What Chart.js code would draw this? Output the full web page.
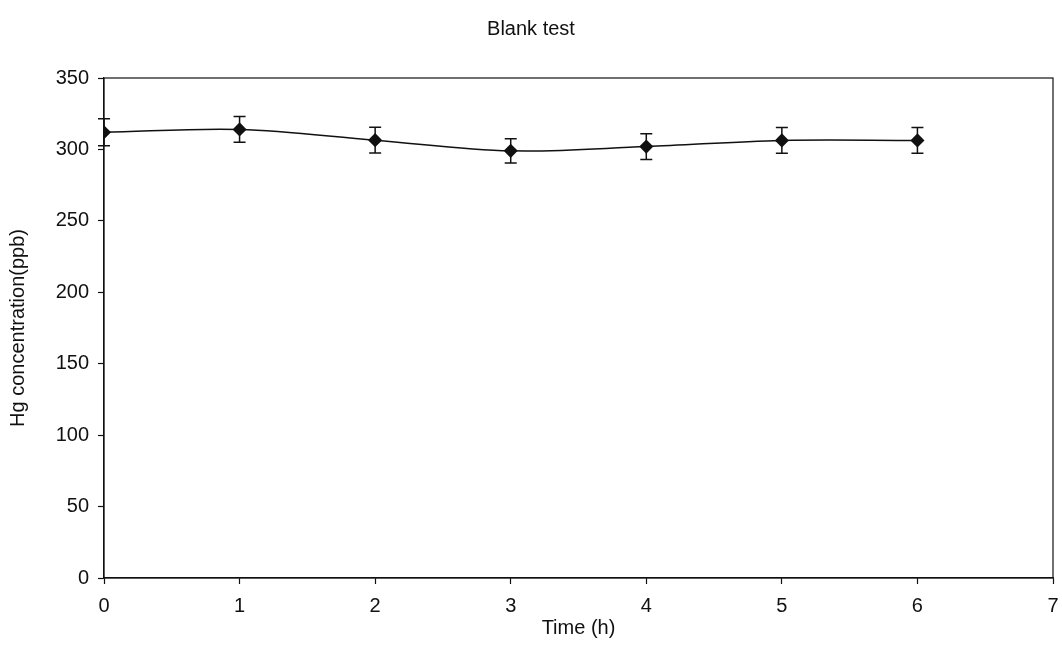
<!DOCTYPE html>
<html><head><meta charset="utf-8">
<script src="https://cdn.jsdelivr.net/npm/chart.js@4.4.1/dist/chart.umd.min.js"></script>
<style>html,body{margin:0;padding:0;background:#fff}#wrap{width:1062px;height:666px}</style>
</head><body><div id="wrap"><canvas id="c" width="1062" height="666"></canvas></div>
<script>
const times = [0, 1, 2, 3, 4, 5, 6];
const hgConc = [312, 314, 306.5, 299, 302, 306.3, 306.3];
const hgErr = [9.5, 9, 9, 8.5, 9, 9, 9];
const xTicks = [0, 1, 2, 3, 4, 5, 6, 7];
const yTicks = [0, 50, 100, 150, 200, 250, 300, 350];

const FONT = 'Liberation Sans, Arial, sans-serif';

const errorBars = {
  id: 'errorBars',
  afterDatasetsDraw(chart) {
    const ctx = chart.ctx, xs = chart.scales.x, ys = chart.scales.y;
    ctx.save();
    ctx.strokeStyle = '#111'; ctx.lineWidth = 1.5;
    times.forEach((t, i) => {
      const px = xs.getPixelForValue(t);
      const top = ys.getPixelForValue(hgConc[i] + hgErr[i]);
      const bot = ys.getPixelForValue(hgConc[i] - hgErr[i]);
      ctx.beginPath();
      ctx.moveTo(px, top); ctx.lineTo(px, bot);
      ctx.moveTo(px - 6, top); ctx.lineTo(px + 6, top);
      ctx.moveTo(px - 6, bot); ctx.lineTo(px + 6, bot);
      ctx.stroke();
    });
    const a = chart.chartArea;
    ctx.lineWidth = 1.2; ctx.strokeStyle = '#111';
    ctx.strokeRect(a.left, a.top, a.right - a.left, a.bottom - a.top);
    ctx.restore();
  }
};

new Chart(document.getElementById('c'), {
  type: 'line',
  data: {
    datasets: [{
      data: times.map((t, i) => ({x: t, y: hgConc[i]})),
      borderColor: '#111', borderWidth: 1.5,
      backgroundColor: '#111',
      pointStyle: 'rectRot', pointRadius: 6, pointHoverRadius: 6,
      tension: 0.35, fill: false
    }]
  },
  options: {
    responsive: false, animation: false,
    layout: {padding: 0},
    plugins: {
      legend: {display: false},
      tooltip: {enabled: false},
      title: {display: true, text: 'Blank test', color: '#111',
        font: {family: FONT, size: 20, weight: 'normal'},
        padding: {top: 17, bottom: 37}}
    },
    scales: {
      x: {
        type: 'linear', min: 0, max: 7,
        afterBuildTicks: s => { s.ticks = xTicks.map(v => ({value: v})); },
        afterFit: s => { s.height = 88; s.paddingRight = 9; s.paddingLeft = 0; },
        grid: {drawOnChartArea: false, color: '#111', tickLength: 6, tickWidth: 1.2},
        border: {color: '#111', width: 1.2},
        ticks: {color: '#111', padding: 10, font: {family: FONT, size: 20}},
        title: {display: true, text: 'Time (h)', color: '#111',
          font: {family: FONT, size: 20},
          padding: {top: 0, bottom: 26}}
      },
      y: {
        min: 0, max: 350,
        afterBuildTicks: s => { s.ticks = yTicks.map(v => ({value: v})); },
        afterFit: s => { s.width = 104; },
        grid: {drawOnChartArea: false, color: '#111', tickLength: 6, tickWidth: 1.2},
        border: {color: '#111', width: 1.2},
        ticks: {color: '#111', padding: 9, font: {family: FONT, size: 20}},
        title: {display: true, text: 'Hg concentration(ppb)', color: '#111',
          font: {family: FONT, size: 20},
          padding: {top: 6, bottom: 0}}
      }
    }
  },
  plugins: [errorBars]
});
</script></body></html>
